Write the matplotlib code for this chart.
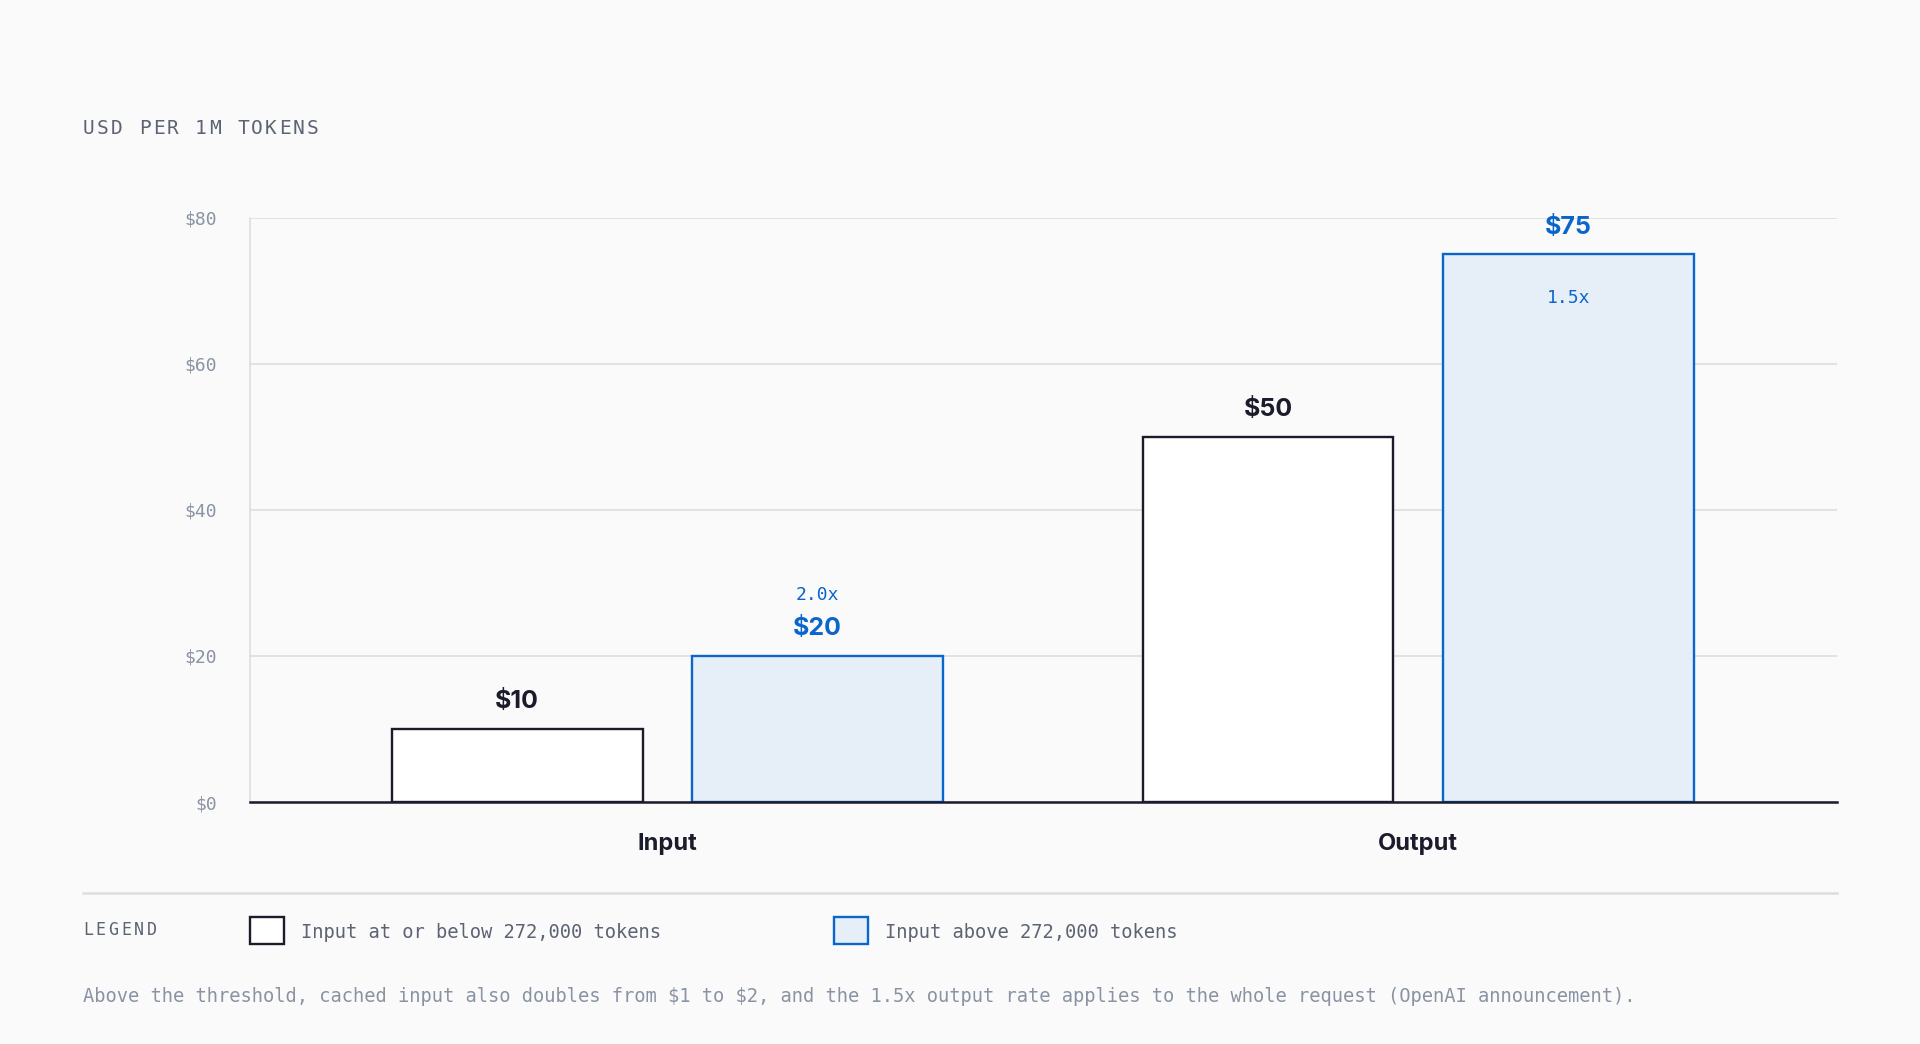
import numpy as np
import matplotlib
matplotlib.use('Agg')
import matplotlib.pyplot as plt
from matplotlib.patches import Rectangle
from matplotlib.lines import Line2D
from matplotlib.transforms import blended_transform_factory

categories = ['Input', 'Output']
base_price = [10, 50]
long_price = [20, 75]
series_labels = ['Input at or below 272,000 tokens', 'Input above 272,000 tokens']
y_ticks = [0, 20, 40, 60, 80]
title = 'USD PER 1M TOKENS'
note = (r'Above the threshold, cached input also doubles from \$1 to \$2, and the 1.5x '
        'output rate applies to the whole request (OpenAI announcement).')

BG = '#fafafa'
DARK = '#1b1b2b'
BLUE = '#0b66cc'
BLUE_FILL = '#e6eef7'
GRID = '#dedede'
GRAY = '#5c6373'
TICK = '#8a93a3'
MONO = 'DejaVu Sans Mono'
SANS = 'Inter'
W, H = 1920, 1044

fig = plt.figure(figsize=(19.2, 10.44), dpi=100, facecolor=BG)
ax = fig.add_axes([0.1302, 0.2318, 0.8266, 0.5594])
ax.set_facecolor(BG)


def spaced_text(x0, y0, s, size, spacing, **kw):
    # monospace text with extra letter spacing (px), one glyph at a time
    adv = 0.602 * size * 100 / 72 + spacing
    for i, ch in enumerate(s):
        fig.text(x0 + i * adv / W, y0, ch, fontfamily=MONO, fontsize=size, va='center', **kw)


x = np.arange(len(categories))
w = 0.334
off = 0.2
ax.bar(x - off, base_price, w, color='white', edgecolor=DARK, linewidth=1.7, zorder=3)
ax.bar(x + off, long_price, w, color=BLUE_FILL, edgecolor=BLUE, linewidth=1.7, zorder=3)

ax.set_xlim(-0.556, 1.558)
ax.set_ylim(0, 80)
ax.set_yticks(y_ticks)
ax.set_yticklabels([f'${t}' for t in y_ticks], fontfamily=MONO, fontsize=13, color=TICK)
ax.tick_params(axis='y', length=0, pad=24)
ax.set_xticks([])
ax.grid(axis='y', color=GRID, linewidth=1.2, zorder=0)
for s in ['top', 'right']:
    ax.spines[s].set_visible(False)
ax.spines['left'].set_color(GRID)
ax.spines['left'].set_linewidth(1.2)
ax.spines['bottom'].set_color(DARK)
ax.spines['bottom'].set_linewidth(1.8)
ax.spines['bottom'].set_zorder(4)

# category names under the axis
tr = blended_transform_factory(ax.transData, ax.transAxes)
for i, c in enumerate(categories):
    ax.text(x[i], -0.072, c, transform=tr, ha='center', va='center',
            fontfamily=SANS, fontweight='bold', fontsize=17, color=DARK)

# value labels
for i in range(len(categories)):
    ax.annotate(f'${base_price[i]}', (x[i] - off, base_price[i]), xytext=(0, 19.5),
                textcoords='offset points', ha='center', va='center',
                fontfamily=SANS, fontweight='bold', fontsize=18, color=DARK)
    ax.annotate(f'${long_price[i]}', (x[i] + off, long_price[i]), xytext=(0, 19.5),
                textcoords='offset points', ha='center', va='center',
                fontfamily=SANS, fontweight='bold', fontsize=18, color=BLUE)
    mult = f'{long_price[i] / base_price[i]:.1f}x'
    # put the ratio inside the bar when there is no room above it
    dy = -31 if long_price[i] > 60 else 44
    ax.annotate(mult, (x[i] + off, long_price[i]), xytext=(0, dy),
                textcoords='offset points', ha='center', va='center',
                fontfamily=MONO, fontsize=13, color=BLUE)

spaced_text(83 / W, 0.877, title, 14, 2.3, color=GRAY)

# separator
fig.add_artist(Line2D([0.0432, 0.9568], [0.1446, 0.1446], color=GRID, linewidth=1.8))

# legend row
spaced_text(83 / W, 0.1095, 'LEGEND', 12, 2.7, color=GRAY)
fig.add_artist(Rectangle((250 / W, 1 - 944 / H), 34 / W, 27 / H,
                         facecolor='white', edgecolor=DARK, linewidth=1.7))
fig.text(301 / W, 0.1065, series_labels[0], fontfamily=MONO, fontsize=13.5,
         color=GRAY, va='center')
fig.add_artist(Rectangle((834 / W, 1 - 944 / H), 34 / W, 27 / H,
                         facecolor=BLUE_FILL, edgecolor=BLUE, linewidth=1.7))
fig.text(885 / W, 0.1065, series_labels[1], fontfamily=MONO, fontsize=13.5,
         color=GRAY, va='center')

fig.text(83 / W, 1 - 996 / H, note, fontfamily=MONO, fontsize=13.5, color=TICK, va='center')

fig.savefig('out.png', dpi=100, facecolor=BG)
